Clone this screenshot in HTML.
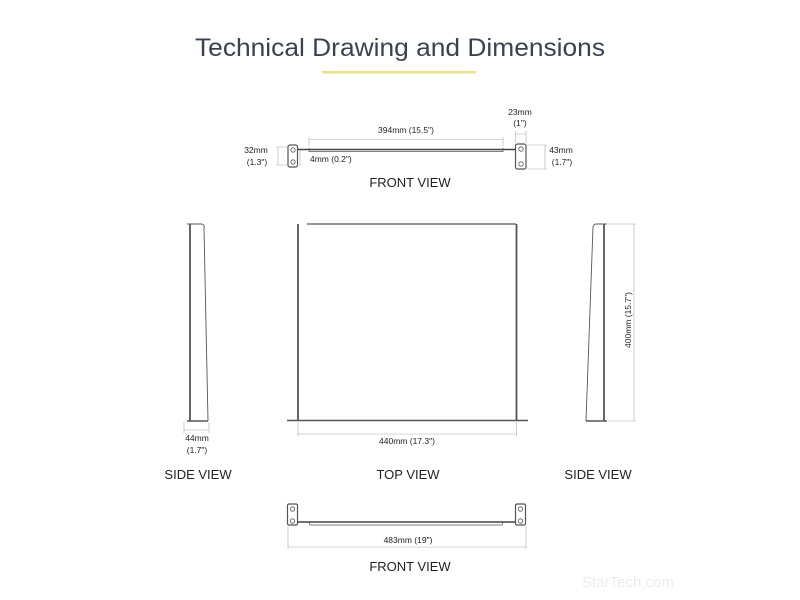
<!DOCTYPE html>
<html><head><meta charset="utf-8"><style>
html,body{margin:0;padding:0;background:#fff;}
svg{display:block;}
text{font-family:"Liberation Sans",sans-serif;fill:#222;}
</style></head><body>
<svg width="800" height="600" viewBox="0 0 800 600" xmlns="http://www.w3.org/2000/svg">
<rect width="800" height="600" fill="#fff"/>
<text x="400" y="56" text-anchor="middle" font-size="25" textLength="410" lengthAdjust="spacingAndGlyphs" style="fill:#3a4250;font-weight:300">Technical Drawing and Dimensions</text>
<rect x="322" y="71" width="154" height="2.5" fill="#ece08a"/>

<!-- FRONT VIEW top -->
<g stroke="#555" fill="none">
<rect x="288" y="145" width="9.5" height="22" rx="2" stroke-width="1.2"/>
<circle cx="293" cy="150" r="2.2" stroke-width="0.8"/>
<circle cx="293" cy="162" r="2.2" stroke-width="0.8"/>
<rect x="515.5" y="144" width="10.5" height="25" rx="2" stroke-width="1.2"/>
<circle cx="521" cy="149" r="2.2" stroke-width="0.8"/>
<circle cx="521" cy="164" r="2.2" stroke-width="0.8"/>
<line x1="297.5" y1="149.5" x2="515.5" y2="149.5" stroke-width="1.6" stroke="#444"/>
<path d="M309 148 L309 151.5 L503 151.5 L503 148" stroke-width="0.8"/>
</g>
<g stroke="#aaa" stroke-width="0.6" fill="none">
<path d="M309 137 V146 M503 137 V146 M309 139.5 H503"/>
<path d="M515.5 131 V143 M526 131 V143 M515.5 134 H526"/>
<path d="M527 145 H547 M527 169 H547 M545 145 V169"/>
<path d="M276 147 H287 M276 165 H287 M278 147 V165"/>
<path d="M300 150 V166"/>
</g>
<g font-size="8.5">
<text x="406" y="133" text-anchor="middle">394mm (15.5")</text>
<text x="520" y="115" text-anchor="middle">23mm</text>
<text x="520" y="126" text-anchor="middle">(1")</text>
<text x="561" y="153" text-anchor="middle">43mm</text>
<text x="562" y="165" text-anchor="middle">(1.7")</text>
<text x="256" y="153" text-anchor="middle">32mm</text>
<text x="257" y="165" text-anchor="middle">(1.3")</text>
<text x="310" y="162">4mm (0.2")</text>
</g>
<text x="410" y="187" text-anchor="middle" font-size="13">FRONT VIEW</text>

<!-- left side view -->
<g stroke="#555" fill="none">
<line x1="190" y1="224" x2="190" y2="421" stroke-width="1.8"/>
<path d="M187 224 H202 Q205 225 204 228 L208 421" stroke-width="0.9"/>
<line x1="187" y1="421" x2="208" y2="421" stroke-width="1.4"/>
</g>
<g stroke="#aaa" stroke-width="0.6" fill="none"><path d="M184 422 V433 M209 422 V433 M184 430 H209"/></g>
<text x="197" y="441" text-anchor="middle" font-size="8.5">44mm</text>
<text x="197" y="453" text-anchor="middle" font-size="8.5">(1.7")</text>

<!-- top view -->
<g stroke="#555" fill="none">
<line x1="298" y1="224" x2="298" y2="421" stroke-width="1.8"/>
<line x1="516.5" y1="224" x2="516.5" y2="421" stroke-width="1.8"/>
<line x1="307" y1="224" x2="516" y2="224" stroke-width="1.2"/>
<line x1="287" y1="420.5" x2="528" y2="420.5" stroke-width="1.4"/>
</g>
<g stroke="#aaa" stroke-width="0.6" fill="none"><path d="M298 422 V436 M516.5 422 V436 M298 434 H516.5"/></g>
<text x="407" y="444" text-anchor="middle" font-size="8.5">440mm (17.3")</text>

<!-- right side view -->
<g stroke="#555" fill="none">
<line x1="604" y1="224" x2="604" y2="421" stroke-width="1.8"/>
<path d="M607 224 H596 Q594 224 593 227 L586 421" stroke-width="0.9"/>
<line x1="586" y1="421" x2="607" y2="421" stroke-width="1.4"/>
</g>
<g stroke="#aaa" stroke-width="0.6" fill="none"><path d="M608 224 H636 M608 421 H636 M634 224 V421"/></g>
<text transform="translate(631,320) rotate(-90)" text-anchor="middle" font-size="8.5">400mm (15.7")</text>

<g font-size="13">
<text x="198" y="479" text-anchor="middle">SIDE VIEW</text>
<text x="408" y="479" text-anchor="middle">TOP VIEW</text>
<text x="598" y="479" text-anchor="middle">SIDE VIEW</text>
</g>

<!-- bottom front view -->
<g stroke="#555" fill="none">
<rect x="287.5" y="504" width="10" height="21" rx="1.5" stroke-width="1.2"/>
<circle cx="292.5" cy="509" r="2.2" stroke-width="0.8"/>
<circle cx="292.5" cy="521" r="2.2" stroke-width="0.8"/>
<rect x="515.5" y="504" width="10" height="21" rx="1.5" stroke-width="1.2"/>
<circle cx="520.5" cy="509" r="2.2" stroke-width="0.8"/>
<circle cx="520.5" cy="521" r="2.2" stroke-width="0.8"/>
<line x1="297.5" y1="522" x2="515.5" y2="522" stroke-width="1.4" stroke="#444"/>
<path d="M309 522 L310 525 L502 525 L503 522" stroke-width="0.8"/>
</g>
<g stroke="#aaa" stroke-width="0.6" fill="none"><path d="M288 526 V549 M526 526 V549 M288 547 H526"/></g>
<text x="408" y="543" text-anchor="middle" font-size="8.5">483mm (19")</text>
<text x="410" y="571" text-anchor="middle" font-size="13">FRONT VIEW</text>

<text x="628" y="587" text-anchor="middle" font-size="15" style="fill:#ececec">StarTech.com</text>
</svg>
</body></html>
